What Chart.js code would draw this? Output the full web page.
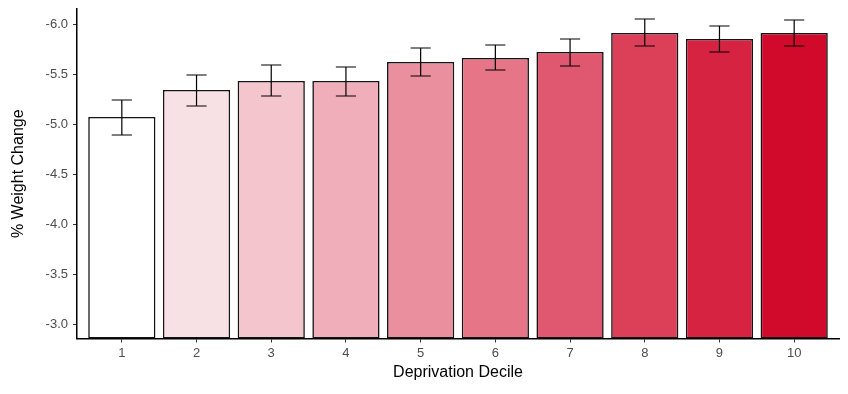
<!DOCTYPE html>
<html lang="en">
<head>
  <meta charset="UTF-8">
  <title>Weight change by deprivation decile</title>
  <script src="https://cdn.jsdelivr.net/npm/chart.js"></script>
  <style>
    body { margin: 0; background: #fff; }
    .grafico { width: 848px; height: 394px; }
  </style>
</head>
<body>
  <div class="grafico">
    <canvas id="myChart"></canvas>
  </div>

<script>
  // data
  const deciles = [1, 2, 3, 4, 5, 6, 7, 8, 9, 10]
  const weightChange = [-5.07, -5.34, -5.43, -5.43, -5.62, -5.66, -5.72, -5.91, -5.85, -5.91]
  const errLow = [-4.89, -5.18, -5.28, -5.28, -5.48, -5.54, -5.58, -5.78, -5.72, -5.78]
  const errHigh = [-5.24, -5.49, -5.59, -5.57, -5.76, -5.79, -5.85, -6.05, -5.98, -6.04]
  const yTicks = [-6.0, -5.5, -5.0, -4.5, -4.0, -3.5, -3.0]

  const colores = ['#FFFFFF', '#F8E1E5', '#F5C5CE', '#F0AEBA', '#EA8F9D',
    '#E67587', '#E05870', '#DC4059', '#D62342', '#D10A2B']

  const fonte = '"Liberation Sans", Arial, sans-serif'

  const errorBars = {
    id: 'errorBars',
    afterDatasetsDraw(chart) {
      const ctx = chart.ctx
      const xs = chart.scales.x
      const ys = chart.scales.y
      ctx.save()
      ctx.strokeStyle = '#000'
      ctx.lineWidth = 1.2
      for (var i = 0; i < deciles.length; i++) {
        const x = xs.getPixelForValue(deciles[i])
        const half = (xs.getPixelForValue(deciles[i] + 0.135) - x)
        const y1 = ys.getPixelForValue(errLow[i])
        const y2 = ys.getPixelForValue(errHigh[i])
        ctx.beginPath()
        ctx.moveTo(x, y1); ctx.lineTo(x, y2)
        ctx.moveTo(x - half, y1); ctx.lineTo(x + half, y1)
        ctx.moveTo(x - half, y2); ctx.lineTo(x + half, y2)
        ctx.stroke()
      }
      ctx.restore()
    }
  }

  const data = {
    datasets: [{
      data: deciles.map((d, i) => ({ x: d, y: weightChange[i] })),
      backgroundColor: colores,
      borderColor: '#141414',
      borderWidth: 1.6,
      borderSkipped: false,
      base: -2.855,
      categoryPercentage: 1,
      barPercentage: 0.9
    }]
  }

  const config = {
    type: 'bar',
    data: data,
    plugins: [errorBars],
    options: {
      responsive: true,
      maintainAspectRatio: false,
      animation: false,
      layout: { padding: { top: 9, right: 9, left: 0, bottom: 0 } },
      plugins: { legend: { display: false }, tooltip: { enabled: false } },
      scales: {
        x: {
          type: 'linear',
          min: 0.4,
          max: 10.6,
          offset: false,
          afterBuildTicks: (s) => { s.ticks = deciles.map(v => ({ value: v })) },
          afterFit: (s) => { s.height = 55.5; s.paddingLeft = 0; s.paddingRight = 0 },
          grid: { offset: false, drawOnChartArea: false, drawTicks: true, tickLength: 4, tickColor: '#333', tickWidth: 1 },
          border: { display: true, color: '#000', width: 1.5 },
          ticks: { color: '#4D4D4D', font: { family: fonte, size: 13 }, padding: 3, maxRotation: 0 },
          title: { display: true, text: 'Deprivation Decile', color: '#000', font: { family: fonte, size: 16 }, padding: { top: 0, bottom: 12 } }
        },
        y: {
          min: -6.15,
          max: -2.855,
          reverse: true,
          afterBuildTicks: (s) => { s.ticks = yTicks.map(v => ({ value: v })) },
          afterFit: (s) => { s.width = 77; s.paddingTop = 0; s.paddingBottom = 0 },
          grid: { drawOnChartArea: false, drawTicks: true, tickLength: 4, tickColor: '#333', tickWidth: 1 },
          border: { display: true, color: '#000', width: 1.5 },
          ticks: {
            color: '#4D4D4D', font: { family: fonte, size: 13 }, padding: 5,
            callback: (v) => Number(v).toFixed(1)
          },
          title: { display: true, text: '% Weight Change', color: '#000', font: { family: fonte, size: 16 }, padding: { top: 9, bottom: 0 } }
        }
      }
    }
  }

  let myChart = new Chart(document.getElementById('myChart'), config)
</script>
</body>
</html>
